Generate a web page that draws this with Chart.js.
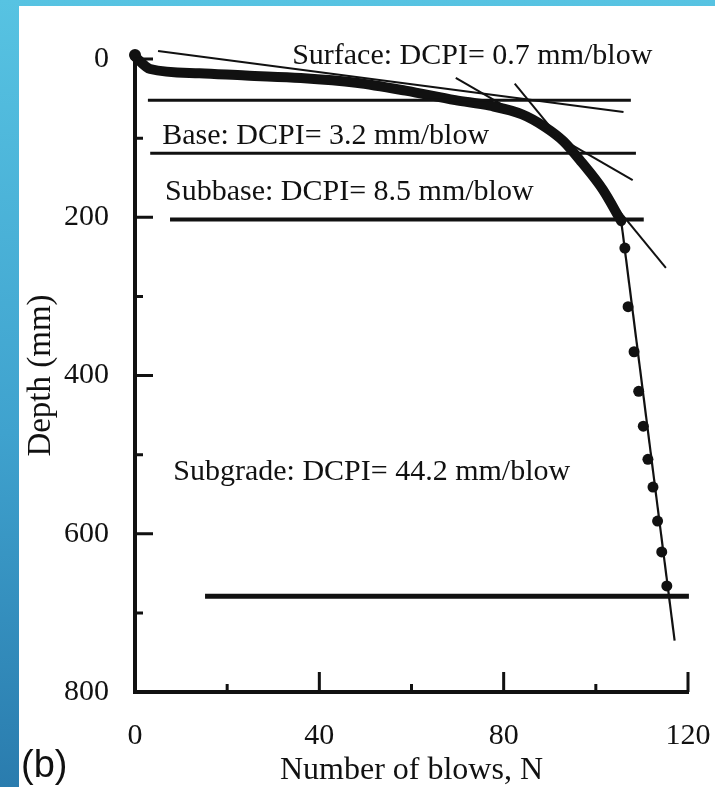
<!DOCTYPE html>
<html>
<head>
<meta charset="utf-8">
<script src="https://cdn.jsdelivr.net/npm/chart.js@4/dist/chart.umd.min.js"></script>
<style>
  html, body { margin: 0; padding: 0; }
  body {
    width: 715px; height: 787px; overflow: hidden; position: relative;
    background: linear-gradient(to bottom, #57c3e2 0%, #3fa2ce 55%, #2a7cae 100%);
  }
  #panel { position: absolute; left: 19px; top: 6px; right: 0; bottom: 0; background: #fff; }
  #chart { position: absolute; left: 0; top: 0; }
</style>
</head>
<body>
<div id="panel"></div>
<canvas id="chart" width="715" height="787"></canvas>
<script>
// measured DCP curve (blows vs depth, mm)
const curveBlows = [0, 3.3, 14, 24, 36, 48, 58.7, 69.5, 77, 84, 89, 93, 97, 101.5, 105.5];
const curveDepth = [-3, 12.6, 18, 21, 24, 30, 40, 52, 59, 70, 86, 104, 131, 165, 205];

// subgrade readings (dots)
const subgradeBlows = [106.3, 107, 108.3, 109.3, 110.3, 111.3, 112.4, 113.4, 114.3, 115.4];
const subgradeDepth = [239, 313, 370, 420, 464, 506, 541, 584, 623, 666];

// start point
const startBlows = [0];
const startDepth = [-5];

// fitted DCPI lines, [start, end]
const surfaceFitBlows = [5, 106];
const surfaceFitDepth = [-10, 67];
const baseFitBlows = [69.6, 108];
const baseFitDepth = [24, 153];
const subbaseFitBlows = [82.4, 115.2];
const subbaseFitDepth = [31, 264];
const subgradeFitBlows = [105.4, 117.1];
const subgradeFitDepth = [200, 735];

// layer boundaries
const layerDepth = [52, 119, 203, 679];
const layerStart = [2.8, 3.3, 7.6, 15.2];
const layerEnd = [107.6, 108.7, 110.4, 120.2];

const layerLabels = [
  "Surface: DCPI= 0.7 mm/blow",
  "Base: DCPI= 3.2 mm/blow",
  "Subbase: DCPI= 8.5 mm/blow",
  "Subgrade: DCPI= 44.2 mm/blow",
];

const ink = "#111";
const layerLineWidths = [3, 3, 4, 5];
const labelAnchors = [[34.1, -4], [5.9, 98], [6.5, 168], [8.3, 522]];

const pts = (xs, ys) => xs.map((x, i) => ({ x: x, y: ys[i] }));

const lineSet = (data, width) => ({
  data: data,
  showLine: true,
  borderColor: ink,
  borderWidth: width,
  pointRadius: 0,
  clip: false,
});

const datasets = [
  lineSet(pts(surfaceFitBlows, surfaceFitDepth), 2),
  lineSet(pts(baseFitBlows, baseFitDepth), 2),
  lineSet(pts(subbaseFitBlows, subbaseFitDepth), 2),
  lineSet(pts(subgradeFitBlows, subgradeFitDepth), 2.2),
];
layerDepth.forEach((d, i) => {
  datasets.push(lineSet(pts([layerStart[i], layerEnd[i]], [d, d]), layerLineWidths[i]));
});
datasets.push({
  ...lineSet(pts(curveBlows, curveDepth), 10),
  cubicInterpolationMode: "monotone",
  borderCapStyle: "round",
  borderJoinStyle: "round",
});
datasets.push({
  data: pts(subgradeBlows, subgradeDepth),
  pointRadius: 5.5,
  pointBackgroundColor: ink,
  pointBorderWidth: 0,
});
datasets.push({
  data: pts(startBlows, startDepth),
  pointRadius: 6,
  pointBackgroundColor: ink,
  pointBorderWidth: 0,
  clip: false,
});

// tick marks pointing into the plot
const innerTicks = {
  id: "innerTicks",
  afterDraw(chart) {
    const { ctx, chartArea } = chart;
    const xs = chart.scales.x, ys = chart.scales.y;
    ctx.save();
    ctx.strokeStyle = ink;
    ctx.lineWidth = 3;
    ctx.beginPath();
    xs.ticks.forEach((t) => {
      if (t.value === 0) return;
      const px = xs.getPixelForValue(t.value);
      const len = t.value % 40 === 0 ? 20 : 8;
      ctx.moveTo(px, chartArea.bottom);
      ctx.lineTo(px, chartArea.bottom - len);
    });
    ys.ticks.forEach((t) => {
      if (t.value === 800) return;
      const py = ys.getPixelForValue(t.value);
      const len = t.value % 200 === 0 ? 18 : 8;
      ctx.moveTo(chartArea.left, py);
      ctx.lineTo(chartArea.left + len, py);
    });
    ctx.stroke();
    ctx.restore();
  },
};

const textLabels = {
  id: "textLabels",
  afterDraw(chart) {
    const { ctx } = chart;
    const xs = chart.scales.x, ys = chart.scales.y;
    ctx.save();
    ctx.fillStyle = ink;
    ctx.font = "30px 'Liberation Serif'";
    ctx.textAlign = "left";
    ctx.textBaseline = "middle";
    layerLabels.forEach((txt, i) => {
      const [n, d] = labelAnchors[i];
      ctx.fillText(txt, xs.getPixelForValue(n), ys.getPixelForValue(d));
    });
    ctx.font = "38px 'Liberation Sans'";
    ctx.textBaseline = "alphabetic";
    ctx.fillText("(b)", 21, 777);
    ctx.restore();
  },
};

const serif = (size, lh) => ({ family: "'Liberation Serif'", size: size, lineHeight: lh || 1.2 });

new Chart(document.getElementById("chart"), {
  type: "scatter",
  data: { datasets: datasets },
  options: {
    responsive: false,
    animation: false,
    layout: { padding: { left: 0, top: 59, right: 27, bottom: 0 } },
    plugins: { legend: { display: false }, tooltip: { enabled: false } },
    scales: {
      x: {
        type: "linear",
        min: 0,
        max: 120,
        afterFit: (s) => { s.height = 95; s.paddingLeft = 0; s.paddingRight = 0; },
        grid: { display: false },
        border: { display: true, width: 4, color: ink },
        ticks: {
          stepSize: 20,
          padding: 18,
          color: ink,
          font: serif(30),
          maxRotation: 0,
          autoSkip: false,
          callback: (v) => (v % 40 === 0 ? v : ""),
        },
        title: {
          display: true,
          text: "Number of blows, N",
          color: ink,
          font: serif(32, 1),
          padding: { top: 0, bottom: 0 },
        },
      },
      y: {
        type: "linear",
        reverse: true,
        min: 0,
        max: 800,
        afterFit: (s) => { s.width = 135; s.paddingTop = 0; s.paddingBottom = 0; },
        grid: { display: false },
        border: { display: true, width: 4, color: ink },
        ticks: {
          stepSize: 100,
          padding: 18,
          color: ink,
          font: serif(30),
          autoSkip: false,
          callback: (v) => (v % 200 === 0 ? v : ""),
        },
        title: {
          display: true,
          text: "Depth (mm)",
          color: ink,
          font: serif(33, 1),
          padding: { top: 25, bottom: 0 },
        },
      },
    },
  },
  plugins: [innerTicks, textLabels],
});
</script>
</body>
</html>
